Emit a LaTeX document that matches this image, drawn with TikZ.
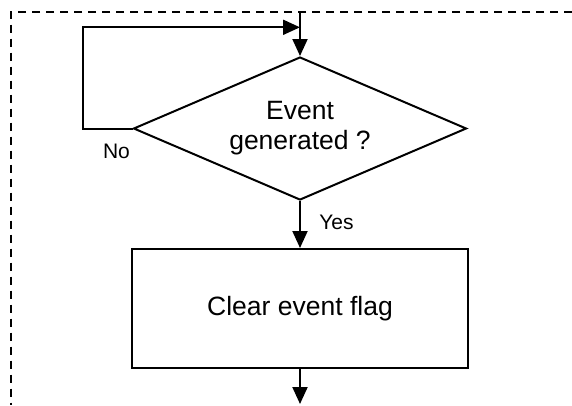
\documentclass[tikz,border=0pt]{standalone}
\usepackage{fontspec}
\setmainfont{Liberation Sans}
\usetikzlibrary{arrows.meta,shapes.geometric}
\begin{document}
\begin{tikzpicture}[x=1pt,y=-1pt,line width=2pt,
  flow/.style={-{Triangle[length=17pt,width=15pt]}},
  frame/.style={dash pattern=on 8pt off 6pt},
  decision/.style={draw,shape=diamond,shape aspect=2.33,minimum width=333pt,minimum height=143pt,
    inner sep=0pt,align=center,font=\fontsize{26.5}{30}\selectfont},
  process/.style={draw,rectangle,minimum width=336pt,minimum height=119pt,inner sep=0pt,
    font=\fontsize{26.5}{30}\selectfont},
  branch/.style={inner sep=0pt,font=\fontsize{21}{24}\selectfont}]
\useasboundingbox (0,0) rectangle (572,405);
% enclosing dashed frame
\draw[frame] (572,11.7) -- (11,11.7) -- (11,405);
% nodes
\node[decision] (dec) at (300,128.5) {Event\\generated ?};
\node[process] (act) at (300,308.5) {Clear event flag};
\coordinate (in) at (300,11.7);
\coordinate (join) at (300,27.3);
\coordinate (out) at (300,404);
\node[branch] (no) at (116.5,151) {No};
\node[branch] (yes) at (336.5,222.5) {Yes};
% connectors
\draw[flow] (in) -- (dec.north);
\draw[flow] (dec.west) -- ++(-49.5,0) |- (join);
\draw[flow] (dec.south) -- (act.north);
\draw[flow] (act.south) -- (out);
\end{tikzpicture}
\end{document}
